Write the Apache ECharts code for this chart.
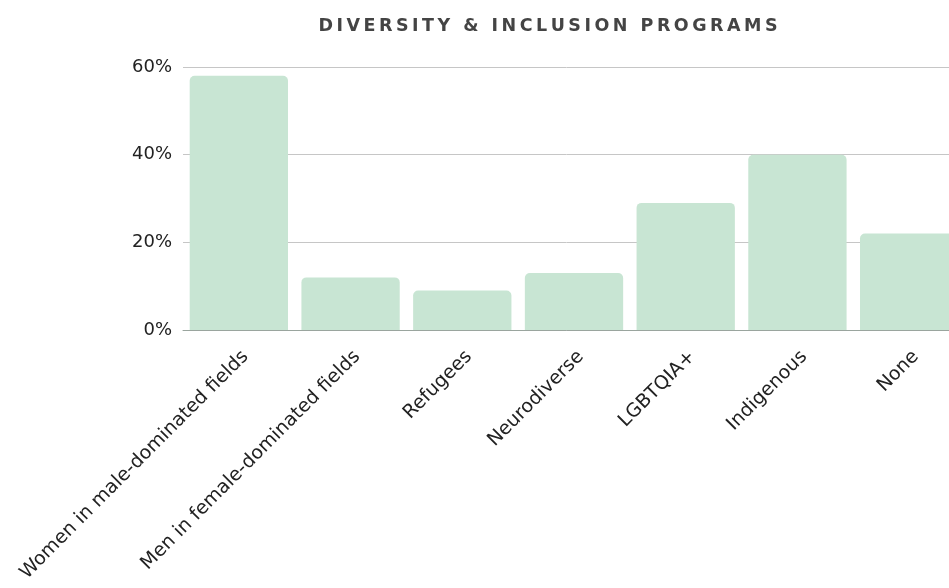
<!DOCTYPE html>
<html>
<head>
<meta charset="utf-8">
<script src="https://cdn.jsdelivr.net/npm/echarts@6/dist/echarts.min.js"></script>
<style>
  html, body { margin: 0; padding: 0; background: #fff; }
  #chart { width: 949px; height: 588px; }
</style>
</head>
<body>
<div id="chart"></div>
<script>
// Share of organisations running each kind of diversity & inclusion programme
const categories = [
  'Women in male-dominated fields',
  'Men in female-dominated fields',
  'Refugees',
  'Neurodiverse',
  'LGBTQIA+',
  'Indigenous',
  'None'
];
const shares = [58, 12, 9, 13, 29, 40, 22];
const yTicks = [0, 20, 40, 60];
const titleText = 'DIVERSITY & INCLUSION PROGRAMS';

// spread the heading letters out (thin space between glyphs)
const spaced = titleText.split('').join('\u2009');

const chart = echarts.init(document.getElementById('chart'));
chart.setOption({
  animation: false,
  title: {
    text: spaced,
    left: 543,
    textAlign: 'center',
    top: 12,
    textStyle: {
      fontFamily: 'DejaVu Sans',
      fontWeight: 'bold',
      fontSize: 17.5,
      color: '#444444'
    }
  },
  grid: {
    left: 183,
    width: 782,
    top: 67,
    height: 263,
    outerBoundsMode: 'none',
    containLabel: false
  },
  xAxis: {
    type: 'category',
    data: categories,
    axisTick: { show: false },
    axisLine: { lineStyle: { color: '#9aa59e', width: 1 } },
    axisLabel: {
      rotate: 45,
      interval: 0,
      margin: 17,
      verticalAlign: 'top',
      fontFamily: 'DejaVu Sans',
      fontSize: 19,
      color: '#222222'
    }
  },
  yAxis: {
    type: 'value',
    min: yTicks[0],
    max: yTicks[yTicks.length - 1],
    interval: 20,
    axisLine: { show: false },
    axisTick: { show: false },
    splitLine: { lineStyle: { color: '#c6c6c6', width: 1 } },
    axisLabel: {
      formatter: v => v + '%',
      margin: 11,
      padding: [4, 0, 0, 0],
      fontFamily: 'DejaVu Sans',
      fontSize: 18,
      color: '#222222'
    }
  },
  series: [{
    type: 'bar',
    data: shares,
    barCategoryGap: '12%',
    itemStyle: {
      color: '#c8e5d3',
      borderRadius: [5, 5, 0, 0]
    }
  }]
});
</script>
</body>
</html>
